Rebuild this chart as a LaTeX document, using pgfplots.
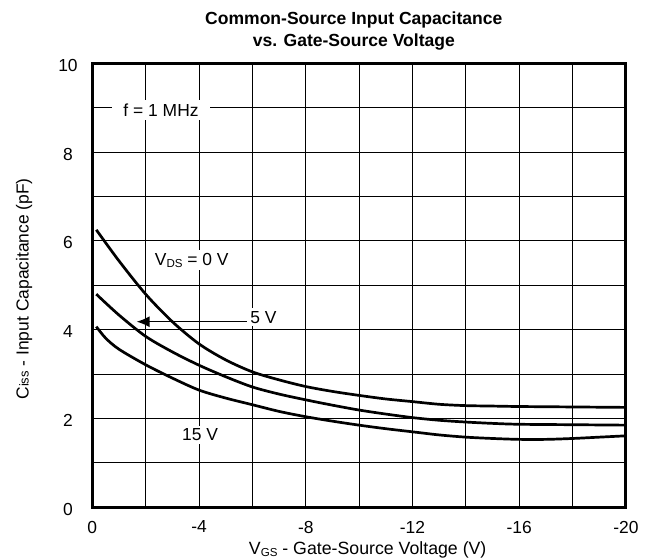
\documentclass[border=0pt]{standalone}
\usepackage{fontspec}
\setmainfont{Liberation Sans}
\usepackage{pgfplots}
\pgfplotsset{compat=1.18}
\usetikzlibrary{arrows.meta}
\newcommand\lf{\fontsize{17.5}{20}\selectfont}
\newcommand\sub[2]{\raisebox{#1}{\fontsize{11.6}{12}\selectfont #2}}
\begin{document}
\begin{tikzpicture}
\path[use as bounding box] (-92.3bp,-52.7bp) rectangle (559.7bp,507.3bp);
\begin{axis}[
  at={(0,0)}, anchor=south west, scale only axis,
  width=533.7bp, height=444bp,
  x dir=reverse, xmin=-20, xmax=0, ymin=0, ymax=10,
  xtick={0,-4,-8,-12,-16,-20}, xticklabels={0,-4,-8,-12,-16,-20},
  ytick={0,2,4,6,8,10},
  minor xtick={-2,-6,-10,-14,-18}, minor ytick={1,3,5,7,9},
  grid=both,
  major grid style={black, line width=0.9bp},
  minor grid style={black, line width=0.9bp},
  major tick length=0pt, minor tick length=0pt,
  axis line style={line width=3bp},
  /pgf/number format/assume math mode=true,
  tick label style={font=\lf},
  xticklabel style={anchor=center, yshift=-19.7bp},
  yticklabel style={anchor=center, xshift=-24.3bp, yshift=-2bp},
  clip=false,
]
% V_DS = 0 V
\addplot[black, line width=2.7bp, smooth] coordinates {
(-0.15,6.25) (-1,5.55) (-2,4.80) (-3,4.18) (-4,3.68) (-5,3.32) (-6,3.05)
(-7,2.87) (-8,2.72) (-9,2.61) (-10,2.52) (-11,2.44) (-12,2.38) (-13,2.32)
(-14,2.29) (-15,2.28) (-16,2.27) (-18,2.26) (-20,2.25)};
% V_DS = 5 V
\addplot[black, line width=2.7bp, smooth] coordinates {
(-0.15,4.80) (-1,4.33) (-2,3.85) (-3,3.50) (-4,3.20) (-5,2.94) (-6,2.71)
(-7,2.55) (-8,2.42) (-9,2.30) (-10,2.19) (-11,2.10) (-12,2.02) (-13,1.96)
(-14,1.92) (-15,1.89) (-16,1.87) (-18,1.86) (-20,1.85)};
% V_DS = 15 V
\addplot[black, line width=2.7bp, smooth] coordinates {
(-0.15,4.07) (-0.5,3.81) (-1,3.56) (-2,3.21) (-3,2.91) (-4,2.64) (-5,2.46)
(-6,2.31) (-7,2.16) (-8,2.04) (-9,1.94) (-10,1.85) (-11,1.77) (-12,1.70)
(-13,1.63) (-14,1.58) (-15,1.55) (-16,1.53) (-17,1.53) (-18,1.55) (-19,1.58) (-20,1.61)};

\node[fill=white, inner xsep=11bp, inner ysep=4bp, anchor=base, font=\lf] at (axis cs:-2.576,8.81) {f = 1 MHz};
\node[fill=white, inner sep=3bp, anchor=base, font=\lf] at (axis cs:-3.727,5.457) {V\sub{-2.3bp}{DS} = 0 V};
\node[fill=white, inner sep=3bp, anchor=base, font=\lf] at (axis cs:-6.41,4.144) {5 V};
\node[fill=white, inner sep=3bp, anchor=base, font=\lf] at (axis cs:-4.04,1.50) {15 V};
\draw[line width=1.4bp, -{Latex[length=13bp,width=11bp]}] (axis cs:-5.79,4.18) -- (axis cs:-1.66,4.18);

\node[anchor=base, font=\bfseries\fontsize{17.6}{20}\selectfont] at (axis description cs:0.490,1.0878) {Common-Source Input Capacitance};
\node[anchor=base, font=\bfseries\fontsize{17.6}{20}\selectfont] at (axis description cs:0.490,1.0383) {vs. Gate-Source Voltage};
\node[anchor=base, font=\fontsize{17.8}{20}\selectfont] at (axis description cs:0.516,-0.1074) {V\sub{-1.7bp}{GS} - Gate-Source Voltage (V)};
\node[anchor=base, rotate=90, font=\lf] at (axis description cs:-0.1195,0.492) {C{\fontsize{13}{14}\selectfont iss} - Input Capacitance (pF)};
\end{axis}
\end{tikzpicture}
\end{document}
